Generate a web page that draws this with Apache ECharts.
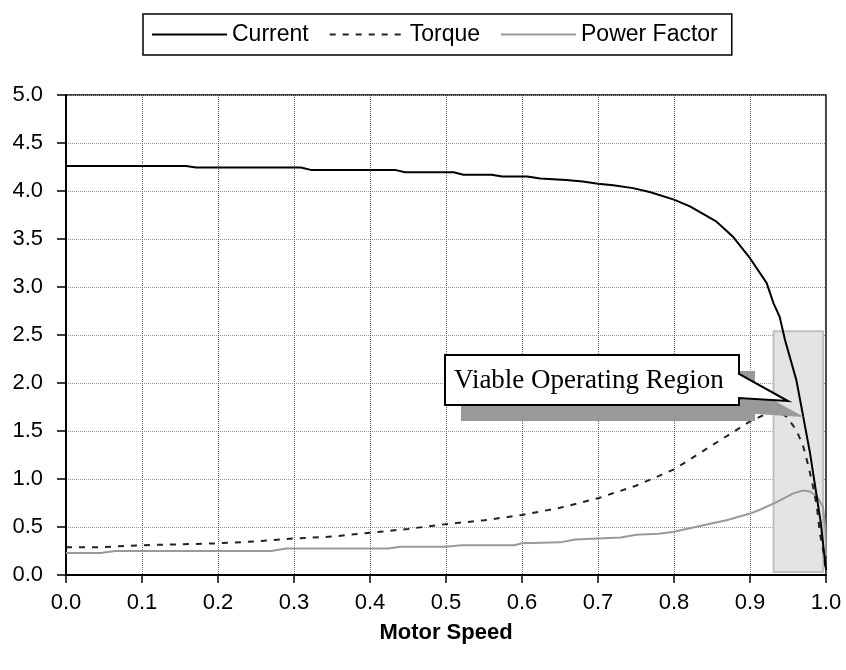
<!DOCTYPE html>
<html>
<head>
<meta charset="utf-8">
<script src="https://cdn.jsdelivr.net/npm/echarts@6/dist/echarts.min.js"></script>
<style>
  html, body { margin: 0; padding: 0; background: #fff; }
  #main { width: 846px; height: 670px; }
</style>
</head>
<body>
<div id="main"></div>
<script>
// curves, [motor speed, value]
const currentData = [
  [0, 4.26], [0.158, 4.26], [0.171, 4.245], [0.309, 4.245], [0.322, 4.22],
  [0.433, 4.22], [0.446, 4.195], [0.51, 4.195], [0.523, 4.17], [0.56, 4.17],
  [0.574, 4.15], [0.607, 4.15], [0.624, 4.13], [0.658, 4.115], [0.68, 4.1],
  [0.7, 4.075], [0.72, 4.06], [0.746, 4.03], [0.768, 3.99], [0.8, 3.91],
  [0.821, 3.84], [0.856, 3.68], [0.878, 3.52], [0.9, 3.3], [0.922, 3.04],
  [0.931, 2.83], [0.939, 2.69], [0.946, 2.45], [0.961, 2.03], [0.966, 1.82],
  [0.979, 1.27], [0.986, 0.91], [0.993, 0.55], [1.0, 0.05]
];
const torqueData = [
  [0, 0.29], [0.05, 0.29], [0.07, 0.3], [0.1, 0.31], [0.15, 0.32], [0.2, 0.33],
  [0.25, 0.35], [0.3, 0.38], [0.35, 0.4], [0.4, 0.44], [0.45, 0.48], [0.5, 0.53],
  [0.55, 0.57], [0.6, 0.625], [0.65, 0.7], [0.7, 0.8], [0.75, 0.93], [0.8, 1.1],
  [0.834, 1.27], [0.87, 1.45], [0.9, 1.6], [0.922, 1.68], [0.939, 1.7],
  [0.948, 1.65], [0.961, 1.51], [0.97, 1.34], [0.977, 1.13], [0.983, 0.92],
  [0.988, 0.71], [0.992, 0.43], [0.997, 0.23], [1.0, 0.02]
];
const powerFactorData = [
  [0, 0.23], [0.045, 0.23], [0.065, 0.25], [0.27, 0.25], [0.29, 0.275],
  [0.424, 0.275], [0.44, 0.295], [0.5, 0.295], [0.52, 0.31], [0.59, 0.31],
  [0.6, 0.33], [0.65, 0.34], [0.67, 0.37], [0.7, 0.38], [0.73, 0.39],
  [0.75, 0.42], [0.78, 0.43], [0.8, 0.45], [0.834, 0.51], [0.869, 0.57],
  [0.9, 0.64], [0.913, 0.68], [0.935, 0.76], [0.957, 0.85], [0.97, 0.88],
  [0.979, 0.87], [0.988, 0.82], [0.996, 0.71], [0.999, 0.5], [1.0, 0.2]
];
// shaded region: [speed, value] corners
const regionCorners = [[0.931, 2.54], [0.996, 0.03]];
const regionLabel = 'Viable Operating Region';

const sans = '"Liberation Sans", Arial, sans-serif';
const chart = echarts.init(document.getElementById('main'));

chart.setOption({
  animation: false,
  textStyle: { fontFamily: sans },
  grid: { left: 66, right: 20, top: 95, bottom: 95, show: true, borderColor: '#000', borderWidth: 1.5 },
  legend: {
    left: 143, top: 14,
    borderColor: '#000', borderWidth: 1.5, padding: [9, 14, 9, 8],
    itemWidth: 75, itemHeight: 14, itemGap: 20,
    itemStyle: { opacity: 0 },
    textStyle: { fontSize: 23, color: '#000', fontFamily: sans },
    data: ['Current', 'Torque', 'Power Factor']
  },
  xAxis: {
    type: 'value', min: 0, max: 1, interval: 0.1,
    name: 'Motor Speed', nameLocation: 'middle', nameGap: 47,
    nameTextStyle: { fontSize: 22, fontWeight: 'bold', color: '#000', fontFamily: sans },
    axisLine: { lineStyle: { color: '#000', width: 2 } },
    axisTick: { show: true, inside: false, length: 8, lineStyle: { color: '#000', width: 1.5 } },
    axisLabel: { fontSize: 22, color: '#000', margin: 17, formatter: v => v.toFixed(1) },
    splitLine: { show: true, lineStyle: { color: '#666', type: 'dotted', width: 1 } }
  },
  yAxis: {
    type: 'value', min: 0, max: 5, interval: 0.5,
    axisLine: { show: true, lineStyle: { color: '#000', width: 2 } },
    axisTick: { show: true, inside: false, length: 9, lineStyle: { color: '#000', width: 1.5 } },
    axisLabel: { fontSize: 22, color: '#000', margin: 23, formatter: v => v.toFixed(1) },
    splitLine: { show: true, lineStyle: { color: '#999', type: 'dotted', width: 1 } }
  },
  series: [
    {
      name: 'Current', type: 'line', data: currentData, symbol: 'none', z: 5,
      lineStyle: { color: '#000', width: 2 }, itemStyle: { color: '#000' },
      markArea: {
        silent: true,
        itemStyle: { color: '#e4e4e4', borderColor: '#c0c0c0', borderWidth: 2 },
        data: [[{ coord: regionCorners[0] }, { coord: regionCorners[1] }]]
      }
    },
    {
      name: 'Torque', type: 'line', data: torqueData, symbol: 'none', z: 4,
      lineStyle: { color: '#222', width: 2, type: [6, 7] }, itemStyle: { color: '#222' }
    },
    {
      name: 'Power Factor', type: 'line', data: powerFactorData, symbol: 'none', z: 3,
      lineStyle: { color: '#999', width: 2 }, itemStyle: { color: '#999' }
    }
  ]
});

// callout with drop shadow
const box = { x0: 445, y0: 355, x1: 739, y1: 405 };
const tip = [788, 401];
function calloutPoints(dx, dy) {
  return [
    [box.x0, box.y0], [box.x1, box.y0], [box.x1, 374], tip, [box.x1, 398],
    [box.x1, box.y1], [box.x0, box.y1]
  ].map(p => [p[0] + dx, p[1] + dy]);
}
chart.setOption({
  graphic: [
    { type: 'polygon', z: 100, shape: { points: calloutPoints(16, 16) }, style: { fill: '#999' } },
    { type: 'polygon', z: 101, shape: { points: calloutPoints(0, 0) }, style: { fill: '#fff', stroke: '#000', lineWidth: 2 } },
    {
      type: 'text', z: 102, x: 454, y: 381,
      style: { text: regionLabel, fill: '#000', font: '27px "Liberation Serif", "Times New Roman", serif', textVerticalAlign: 'middle' }
    }
  ]
});
</script>
</body>
</html>
